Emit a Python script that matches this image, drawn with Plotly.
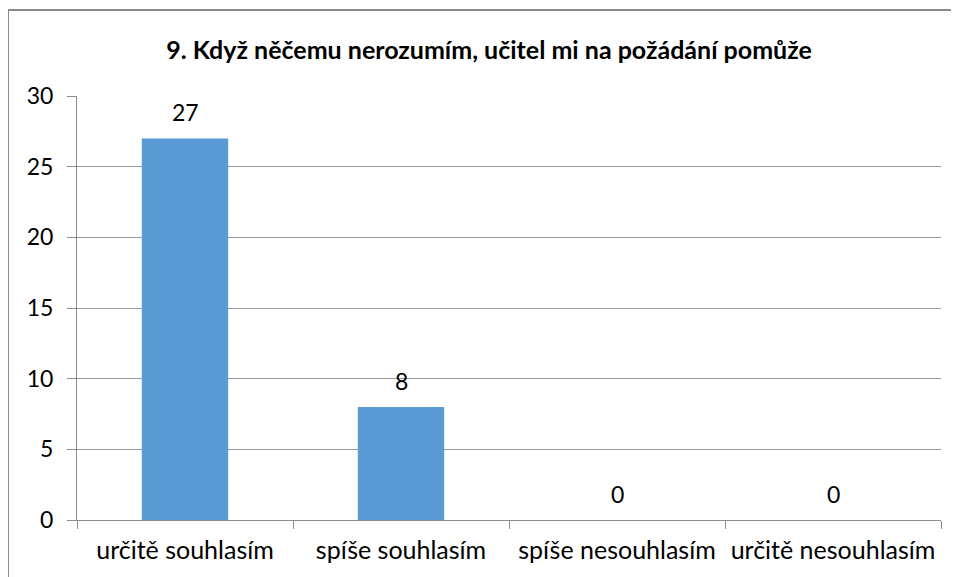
import plotly.graph_objects as go

categories = ["určitě souhlasím", "spíše souhlasím", "spíše nesouhlasím", "určitě nesouhlasím"]
values = [27, 8, 0, 0]
y_ticks = [0, 5, 10, 15, 20, 25, 30]
title_text = "9. Když něčemu nerozumím, učitel mi na požádání pomůže"

# page body has an 8px margin, so the figure starts at (8, 8)
OFF = 8
W, H = 959 - OFF, 577 - OFF
ml, mt = 77 - OFF, 96 - OFF
pw, ph = 864, 424
mr, mb = W - ml - pw, H - mt - ph

FONT = "Lato, Carlito, sans-serif"

fig = go.Figure()
fig.add_trace(go.Bar(
    x=categories, y=values, width=0.4,
    marker=dict(color="#5B9BD5", line=dict(width=0)),
    hoverinfo="x+y",
))

for c, v in zip(categories, values):
    fig.add_annotation(x=c, y=v, text=str(v), showarrow=False, yshift=26,
                       font=dict(family=FONT, size=23, color="#000000"))

# outer chart frame
fx0 = (8 - OFF - ml) / pw
fy1 = 1 + (mt - (10 - OFF)) / ph
fig.add_shape(type="rect", xref="paper", yref="paper", x0=fx0, x1=1.2, y0=-0.3, y1=fy1,
              line=dict(color="#8a8a8a", width=2), fillcolor="rgba(0,0,0,0)", layer="below")

fig.update_layout(
    width=W, height=H,
    margin=dict(l=ml, r=mr, t=mt, b=mb, pad=0),
    paper_bgcolor="white", plot_bgcolor="white",
    showlegend=False,
    title=dict(text="<b>" + title_text + "</b>", x=(489 - OFF) / W, xref="container", xanchor="center",
               y=1 - (50 - OFF) / H, yanchor="middle",
               font=dict(family=FONT, size=25, color="#000000")),
)
fig.update_xaxes(
    type="category", showline=True, linecolor="#8c8c8c", linewidth=1,
    ticks="outside", tickson="boundaries", ticklen=8, tickcolor="#8c8c8c",
    ticklabelstandoff=8,
    showgrid=False, tickfont=dict(family=FONT, size=25, color="#000000"),
)
fig.update_yaxes(
    range=[0, 30], tickvals=y_ticks, showline=True, linecolor="#8c8c8c", linewidth=1,
    ticks="outside", ticklen=9, tickcolor="#8c8c8c",
    ticklabelstandoff=9,
    showgrid=True, gridcolor="#9a9a9a", gridwidth=1, zeroline=False,
    tickfont=dict(family=FONT, size=23, color="#000000"),
)

fig.write_html("out.html")
